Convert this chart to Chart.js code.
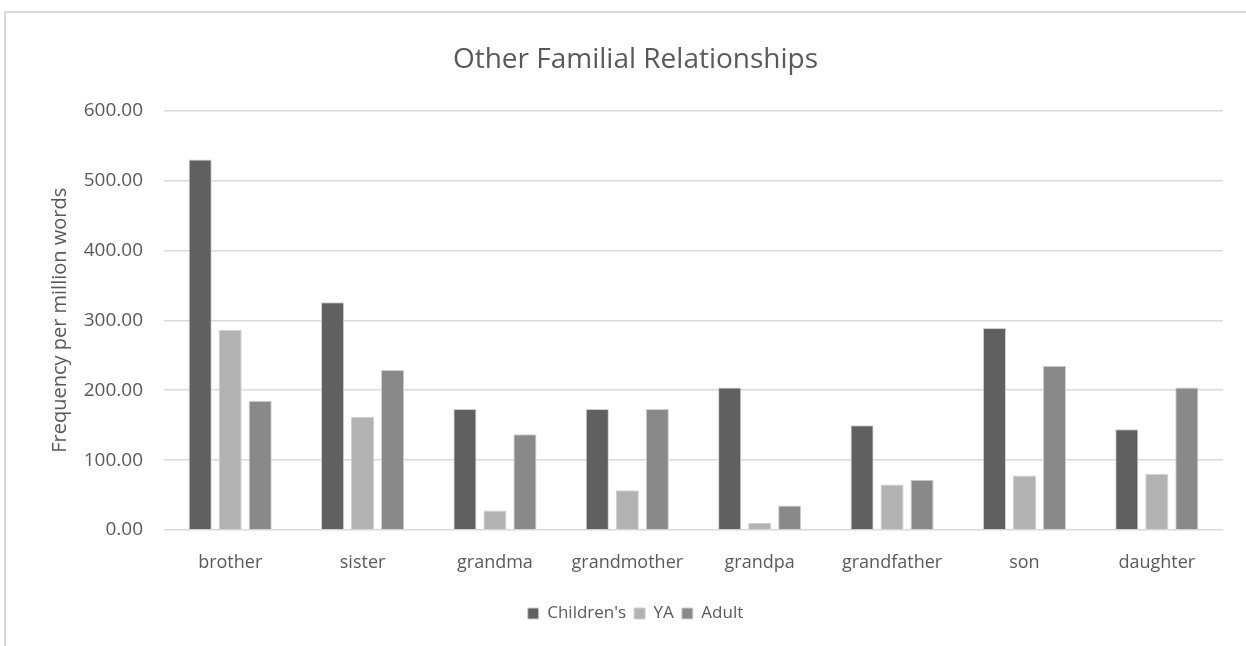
<!DOCTYPE html>
<html>
<head>
<meta charset="utf-8">
<script src="https://cdn.jsdelivr.net/npm/chart.js@4/dist/chart.umd.min.js"></script>
<style>
  html, body { margin: 0; padding: 0; background: #fff; }
  #wrap { position: relative; width: 1246px; height: 646px; overflow: hidden; }
  #frame { position: absolute; left: 4px; top: 11px; width: 1300px; height: 700px;
           border-top: 2px solid #d9d9d9; border-left: 2px solid #d9d9d9; }
  canvas { position: absolute; left: 0; top: 0; }
</style>
</head>
<body>
<div id="wrap">
  <div id="frame"></div>
  <canvas id="chart" width="1246" height="646"></canvas>
</div>
<script>
// categories and series
var categories = ['brother', 'sister', 'grandma', 'grandmother', 'grandpa', 'grandfather', 'son', 'daughter'];
var childrens = [530, 326, 173, 173, 204, 150, 289, 144];
var ya        = [286, 162, 28, 57, 10, 65, 78, 80];
var adult     = [185, 229, 137, 173, 35, 72, 235, 204];
var yTicks    = [0, 100, 200, 300, 400, 500, 600];

var textColor = '#595959';
var fontFamily = '"Open Sans", "Liberation Sans", sans-serif';

function series(label, values, color) {
    return {
        label: label,
        data: values,
        backgroundColor: color,
        borderColor: '#d0d0d0',
        borderWidth: 1,
        categoryPercentage: 0.68,
        barPercentage: 0.77
    };
}

var ctx = document.getElementById('chart').getContext('2d');
var chart = new Chart(ctx, {
    type: 'bar',
    data: {
        labels: categories,
        datasets: [
            series("Children's", childrens, '#606060'),
            series('YA', ya, '#b2b2b2'),
            series('Adult', adult, '#898989')
        ]
    },
    options: {
        responsive: false,
        animation: false,
        layout: { padding: { left: 48, right: 23, top: 0, bottom: 14 } },
        plugins: {
            title: {
                display: true,
                text: 'Other Familial Relationships',
                color: textColor,
                font: { family: fontFamily, size: 28, weight: 'normal' },
                padding: { top: 43, bottom: 34 }
            },
            legend: {
                position: 'bottom',
                labels: {
                    color: textColor,
                    font: { family: fontFamily, size: 17 },
                    boxWidth: 11,
                    boxHeight: 11,
                    padding: 8
                }
            },
            tooltip: { enabled: false }
        },
        scales: {
            x: {
                grid: { display: false },
                border: { display: false },
                ticks: {
                    color: textColor,
                    font: { family: fontFamily, size: 18 },
                    padding: 14,
                    maxRotation: 0
                },
                afterFit: function(scale) { scale.height = 67; }
            },
            y: {
                min: 0,
                max: 600,
                afterBuildTicks: function(scale) {
                    scale.ticks = yTicks.map(function(v) { return { value: v }; });
                },
                grid: { color: '#d9d9d9', lineWidth: 1.5, drawTicks: false },
                border: { display: false },
                ticks: {
                    color: textColor,
                    font: { family: fontFamily, size: 19 },
                    padding: 21,
                    callback: function(v) { return v.toFixed(2); }
                },
                title: {
                    display: true,
                    text: 'Frequency per million words',
                    color: textColor,
                    font: { family: fontFamily, size: 20 },
                    padding: 0
                },
                afterFit: function(scale) { scale.width = 116; }
            }
        }
    }
});
</script>
</body>
</html>
